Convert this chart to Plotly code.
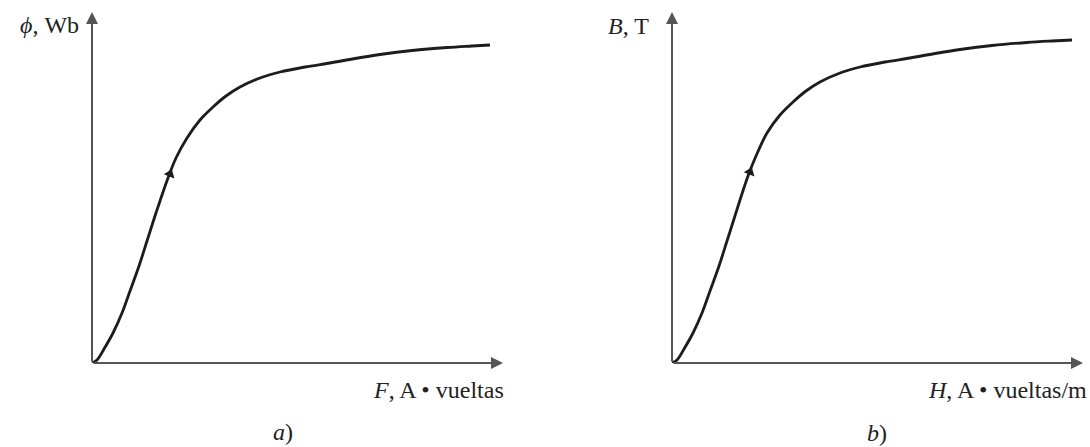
import plotly.graph_objects as go

# Magnetization curves (arbitrary units): flux vs. MMF, and flux density vs. field intensity
f_mmf = [0, 5, 12, 21, 30, 38, 47, 55, 62, 68, 76, 84, 95, 108, 121, 134, 148,
         168, 188, 213, 238, 263, 288, 320, 355, 380, 398]
phi_flux = [0, 3, 14, 30, 50, 72, 97, 122, 144, 162, 185, 205, 225, 243, 256, 267, 276,
            285, 291, 296, 300, 304.5, 308.5, 312.5, 315.5, 317, 318]

h_field = [0, 5, 12, 21, 30, 38, 47, 55, 62, 68, 76, 84, 95, 108, 121, 134, 148,
           168, 188, 213, 238, 263, 288, 320, 355, 380, 400]
b_dens = [0, 3, 14, 30, 50, 72, 97, 122, 144, 163, 187, 207, 230, 248, 261, 272, 281,
          290, 296, 301, 305, 309.5, 313.5, 317.5, 320.5, 322, 323]

# direction marks on the rising branch
arrow_left = (78, 189)
arrow_right = (78, 191)

W, H = 1090, 447
X_MAX, Y_MAX = 411, 351

fig = go.Figure()

curve_style = dict(color="#1c1c1c", width=2.8, smoothing=1.0)
fig.add_trace(go.Scatter(x=f_mmf, y=phi_flux, mode="lines", line_shape="spline",
                         line=curve_style, xaxis="x", yaxis="y", hoverinfo="skip"))
fig.add_trace(go.Scatter(x=h_field, y=b_dens, mode="lines", line_shape="spline",
                         line=curve_style, xaxis="x2", yaxis="y2", hoverinfo="skip"))

tri = dict(symbol="triangle-up", size=10, angle=21, color="#1c1c1c", line=dict(width=0))
fig.add_trace(go.Scatter(x=[arrow_left[0]], y=[arrow_left[1]], mode="markers",
                         marker=tri, xaxis="x", yaxis="y", hoverinfo="skip"))
fig.add_trace(go.Scatter(x=[arrow_right[0]], y=[arrow_right[1]], mode="markers",
                         marker=tri, xaxis="x2", yaxis="y2", hoverinfo="skip"))

def px_x(p):
    return p / W

def px_y(p):
    return 1 - p / H

hidden = dict(showgrid=False, zeroline=False, showticklabels=False, showline=False,
              ticks="", fixedrange=True)

fig.update_layout(
    width=W, height=H,
    margin=dict(l=0, r=0, t=0, b=0),
    paper_bgcolor="white", plot_bgcolor="white",
    showlegend=False,
    xaxis=dict(domain=[px_x(92), px_x(92 + X_MAX)], range=[0, X_MAX], **hidden),
    yaxis=dict(domain=[px_y(363), px_y(363 - Y_MAX)], range=[0, Y_MAX], **hidden),
    xaxis2=dict(domain=[px_x(672), px_x(672 + X_MAX)], range=[0, X_MAX], anchor="y2", **hidden),
    yaxis2=dict(domain=[px_y(363), px_y(363 - Y_MAX)], range=[0, Y_MAX], anchor="x2", **hidden),
)

axis_arrow = dict(showarrow=True, arrowhead=2, arrowsize=1.2, arrowwidth=2,
                  arrowcolor="#555555", text="")
for xr, yr in (("x", "y"), ("x2", "y2")):
    fig.add_annotation(x=X_MAX, y=0, ax=0, ay=0, xref=xr, yref=yr,
                       axref=xr, ayref=yr, **axis_arrow)
    fig.add_annotation(x=0, y=Y_MAX, ax=0, ay=0, xref=xr, yref=yr,
                       axref=xr, ayref=yr, **axis_arrow)

label_font = dict(family="Liberation Serif", size=24, color="#222222")

def label(text, x, y, xanchor="right"):
    fig.add_annotation(text=text, x=px_x(x), y=px_y(y), xref="paper", yref="paper",
                       xanchor=xanchor, yanchor="middle", showarrow=False, font=label_font)

label("<i>ϕ</i>, Wb", 81, 25)
label("<i>B</i>, T", 651, 26)
label("<i>F</i>, A • vueltas", 506, 390)
label("<i>H</i>, A • vueltas/m", 1089, 390)
label("<i>a</i>)", 283, 432, xanchor="center")
label("<i>b</i>)", 877, 433, xanchor="center")

fig.write_html("out.html")
